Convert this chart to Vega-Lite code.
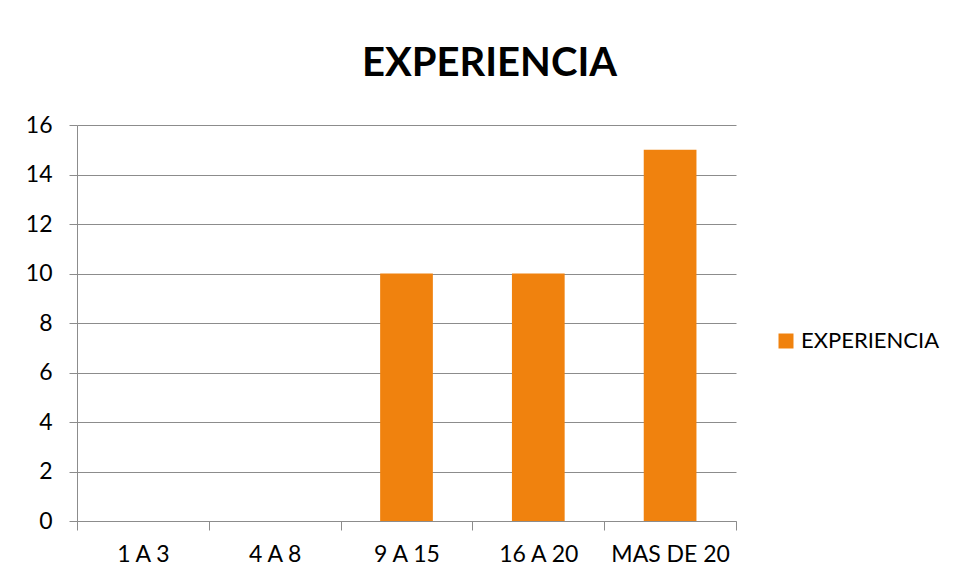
{
  "$schema": "https://vega.github.io/schema/vega-lite/v6.json",
  "width": 659,
  "height": 396,
  "autosize": {"type": "none"},
  "padding": {"left": 77, "top": 125, "right": 219, "bottom": 61},
  "background": "white",
  "title": {
    "text": "EXPERIENCIA",
    "font": "Lato",
    "fontSize": 40,
    "fontWeight": "bold",
    "color": "#000000",
    "anchor": "middle",
    "frame": "group",
    "baseline": "alphabetic",
    "dx": 83,
    "offset": -2
  },
  "config": {
    "view": {"stroke": null},
    "font": "Lato"
  },
  "data": {
    "values": [
      {"cat": "1 A 3", "value": 0, "serie": "EXPERIENCIA"},
      {"cat": "4 A 8", "value": 0, "serie": "EXPERIENCIA"},
      {"cat": "9 A 15", "value": 10, "serie": "EXPERIENCIA"},
      {"cat": "16 A 20", "value": 10, "serie": "EXPERIENCIA"},
      {"cat": "MAS DE 20", "value": 15, "serie": "EXPERIENCIA"}
    ]
  },
  "mark": {"type": "bar", "width": {"band": 0.4}},
  "encoding": {
    "x": {
      "field": "cat",
      "type": "nominal",
      "sort": null,
      "scale": {"paddingInner": 0, "paddingOuter": 0},
      "axis": {
        "title": null,
        "labelAngle": 0,
        "labelFont": "Lato",
        "labelFontSize": 23,
        "labelColor": "#000000",
        "labelPadding": 13,
        "tickBand": "extent",
        "tickSize": 9,
        "tickColor": "#8c8c8c",
        "tickWidth": 1,
        "domainColor": "#8c8c8c",
        "domainWidth": 1,
        "grid": false
      }
    },
    "y": {
      "field": "value",
      "type": "quantitative",
      "scale": {"domain": [0, 16], "nice": false},
      "axis": {
        "title": null,
        "values": [0, 2, 4, 6, 8, 10, 12, 14, 16],
        "labelFont": "Lato",
        "labelFontSize": 23,
        "labelColor": "#000000",
        "labelPadding": 17,
        "tickSize": 8,
        "tickColor": "#8c8c8c",
        "tickWidth": 1,
        "domainColor": "#8c8c8c",
        "domainWidth": 1,
        "grid": true,
        "gridColor": "#8c8c8c",
        "gridWidth": 1
      }
    },
    "color": {
      "field": "serie",
      "type": "nominal",
      "scale": {"range": ["#F0820E"]},
      "legend": {
        "title": null,
        "orient": "none",
        "legendX": 698,
        "legendY": 205,
        "padding": 0,
        "symbolType": "square",
        "symbolSize": 225,
        "symbolStrokeWidth": 0,
        "labelFont": "Lato",
        "labelFontSize": 22,
        "labelColor": "#000000",
        "labelOffset": 4
      }
    }
  }
}
